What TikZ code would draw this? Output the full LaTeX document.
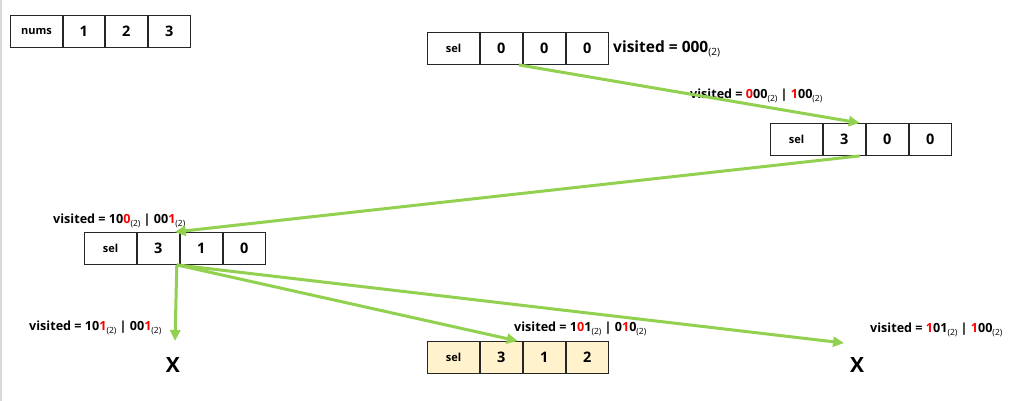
\documentclass[tikz,border=0pt]{standalone}
\usepackage{fontspec}
\setmainfont{Open Sans}
\usetikzlibrary{arrows.meta}
\definecolor{arrgreen}{HTML}{92D050}
\definecolor{cellyellow}{HTML}{FFF2CC}
\newcommand\rd[1]{\textcolor{red}{#1}}
\newcommand\bsub{\raisebox{-0.45ex}{\fontsize{8.5}{8.5}\selectfont\mdseries(2)}}
\begin{document}
\begin{tikzpicture}[x=1pt,y=-1pt,
  cell/.style={draw=black!85, line width=0.9pt, minimum height=32pt, inner sep=0pt, anchor=north west, font=\fontsize{14.5}{14.5}\selectfont\bfseries},
  narrow/.style={cell, minimum width=42pt},
  wide/.style={cell, minimum width=52pt, font=\fontsize{11}{11}\selectfont\bfseries},
  lbl/.style={anchor=west, inner sep=0pt, font=\fontsize{12.6}{12.6}\selectfont\bfseries},
  bigx/.style={inner sep=0pt, font=\fontsize{21}{21}\selectfont\bfseries},
  garrow/.style={draw=arrgreen, line width=3pt, -{Triangle[length=11pt,width=10pt]}}]
\useasboundingbox (0,0) rectangle (1020,401);
\fill[white] (0,0) rectangle (1020,401);
\draw[black!15, line width=1.5pt] (1,0) -- (1,401);

% nums row
\node[wide] (n0) at (10,15) {nums};
\node[narrow, minimum width=41pt] (n1) at (n0.north east) {1};
\node[narrow] (n2) at (n1.north east) {2};
\node[narrow] (n3) at (n2.north east) {3};

% top row
\node[wide] (a0) at (427,32) {sel};
\node[narrow] (a1) at (a0.north east) {0};
\node[narrow] (a2) at (a1.north east) {0};
\node[narrow] (a3) at (a2.north east) {0};
\node[anchor=west, inner sep=0pt, font=\fontsize{15.5}{15.5}\selectfont\bfseries] (l0) at (613,49) {visited = 000\raisebox{-0.45ex}{\fontsize{10}{10}\selectfont\mdseries(2)}};

% second row
\node[wide] (b0) at (770,123) {sel};
\node[narrow] (b1) at (b0.north east) {3};
\node[narrow] (b2) at (b1.north east) {0};
\node[narrow] (b3) at (b2.north east) {0};

% third row
\node[wide] (c0) at (84,232) {sel};
\node[narrow] (c1) at (c0.north east) {3};
\node[narrow] (c2) at (c1.north east) {1};
\node[narrow] (c3) at (c2.north east) {0};

% result row
\node[wide, fill=cellyellow] (d0) at (427,341) {sel};
\node[narrow, fill=cellyellow] (d1) at (d0.north east) {3};
\node[narrow, fill=cellyellow] (d2) at (d1.north east) {1};
\node[narrow, fill=cellyellow] (d3) at (d2.north east) {2};

% labels
\node[lbl] (l1) at (690,96) {visited = \rd{0}00\bsub{} | \rd{1}00\bsub};
\node[lbl] (l2) at (53,221) {visited = 10\rd{0}\bsub{} | 00\rd{1}\bsub};
\node[lbl] (l3) at (29,328) {visited = 10\rd{1}\bsub{} | 00\rd{1}\bsub};
\node[lbl] (l4) at (514,329) {visited = 1\rd{0}1\bsub{} | 0\rd{1}0\bsub};
\node[lbl] (l5) at (870,330) {visited = \rd{1}01\bsub{} | \rd{1}00\bsub};

\node[bigx] (x1) at (173,365) {X};
\node[bigx] (x2) at (857,365) {X};

\coordinate (dn) at (175,341);
\coordinate (rt) at (844,343);

% arrows
\draw[garrow] ([xshift=-4pt]a1.south east) -- ([xshift=-6pt]b1.north east);
\draw[garrow] ([xshift=-6pt]b1.south east) -- ([xshift=-5pt]c1.north east);
\draw[garrow] ([xshift=-3pt]c1.south east) -- (dn);
\draw[garrow] ([xshift=-3pt]c1.south east) -- ([xshift=-5pt]d1.north east);
\draw[garrow] ([xshift=-3pt]c1.south east) -- (rt);
\end{tikzpicture}
\end{document}
